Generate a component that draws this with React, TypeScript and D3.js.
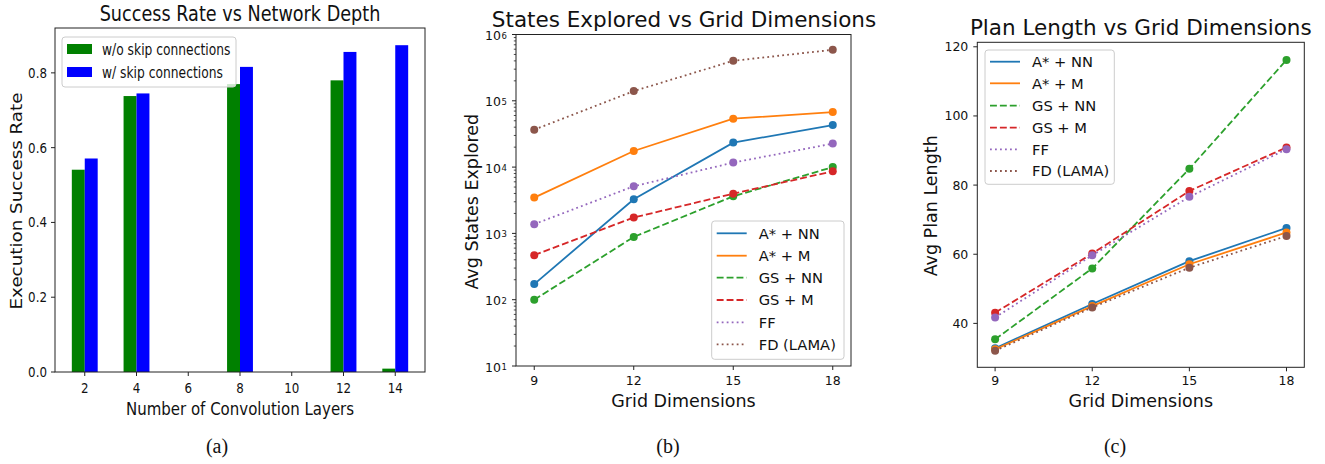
import React from 'react';
import * as d3 from 'd3';

// ---- panel (a) data ----
const layers = [2, 4, 6, 8, 10, 12, 14];
const withoutSkip = [0.541, 0.738, 0, 0.77, 0, 0.78, 0.009];
const withSkip = [0.571, 0.745, 0, 0.816, 0, 0.856, 0.874];
const barTicksY = [0, 0.2, 0.4, 0.6, 0.8];

// ---- panels (b) and (c) data ----
const gridDims = [9, 12, 15, 18];
const seriesNames = ['A* + NN', 'A* + M', 'GS + NN', 'GS + M', 'FF', 'FD (LAMA)'];
const seriesColors = ['#1f77b4', '#ff7f0e', '#2ca02c', '#d62728', '#9467bd', '#8c564b'];
const seriesStyles = ['solid', 'solid', 'dashed', 'dashed', 'dotted', 'dotted'];

const statesExplored = [
  [172, 3270, 23400, 43000],
  [3470, 17500, 53700, 67600],
  [100, 885, 3630, 10000],
  [470, 1735, 3980, 8650],
  [1377, 5140, 11700, 22600],
  [36700, 140000, 401000, 588000],
];
const planLength = [
  [32.8, 45.6, 58.0, 67.6],
  [32.5, 45.0, 57.1, 66.3],
  [35.4, 55.9, 84.7, 116.2],
  [43.1, 60.2, 78.3, 90.9],
  [41.7, 59.7, 76.6, 90.4],
  [32.1, 44.6, 56.1, 65.3],
];
const logTicks = [1, 2, 3, 4, 5, 6];
const planTicks = [40, 60, 80, 100, 120];

const FONT = '"DejaVu Sans", sans-serif';
const INK = '#111';
const dashOf = (s: string) => (s === 'dashed' ? '6.9,3' : s === 'dotted' ? '1.8,3.2' : undefined);

const SQ = 0.82; // panel (a) is horizontally squeezed in the source

function BarPanel() {
  const x = d3.scaleLinear().domain([0.85, 15.15]).range([55, 425]);
  const y = d3.scaleLinear().domain([0, 0.92]).range([372, 28]);
  const bw = x(0.5) - x(0);
  const sq = (tx: number, ty: number, extra = '') => `translate(${tx},${ty}) scale(${SQ},1)${extra}`;
  return (
    <g fontFamily={FONT} fill={INK}>
      {layers.map((l, i) => (
        <g key={l}>
          <rect x={x(l) - bw} y={y(withoutSkip[i])} width={bw} height={y(0) - y(withoutSkip[i])} fill="#008000" />
          <rect x={x(l)} y={y(withSkip[i])} width={bw} height={y(0) - y(withSkip[i])} fill="#0000ff" />
        </g>
      ))}
      <rect x={55} y={28} width={370} height={344} fill="none" stroke="#222" strokeWidth={1} />
      {barTicksY.map((t) => (
        <g key={t}>
          <line x1={51} x2={55} y1={y(t)} y2={y(t)} stroke="#222" />
          <text transform={sq(47, y(t) + 5)} textAnchor="end" fontSize={14.5}>{t.toFixed(1)}</text>
        </g>
      ))}
      {layers.map((l) => (
        <g key={l}>
          <line x1={x(l)} x2={x(l)} y1={372} y2={376} stroke="#222" />
          <text transform={sq(x(l), 393)} textAnchor="middle" fontSize={14.5}>{l}</text>
        </g>
      ))}
      <text transform={sq(240, 21)} textAnchor="middle" fontSize={21.5}>Success Rate vs Network Depth</text>
      <text transform={sq(240, 415)} textAnchor="middle" fontSize={18.3}>Number of Convolution Layers</text>
      <text transform={`translate(21.5,201) scale(${SQ},1) rotate(-90)`} textAnchor="middle" fontSize={18.3}>Execution Success Rate</text>
      <rect x={62} y={37} width={174} height={50} rx={3} fill="#fff" fillOpacity={0.8} stroke="#ccc" />
      <rect x={67} y={44} width={25} height={10} fill="#008000" />
      <rect x={67} y={67} width={25} height={10} fill="#0000ff" />
      <text transform={sq(102, 55)} fontSize={15}>w/o skip connections</text>
      <text transform={sq(102, 78)} fontSize={15}>w/ skip connections</text>
    </g>
  );
}

type LineProps = {
  left: number; right: number; top: number; bottom: number;
  values: number[][];
  log: boolean;
  yDomain: [number, number];
  title: string; titleX: number; titleY: number;
  yLabel: string; yLabelX: number; yLabelY: number;
  legend: { x: number; y: number; w: number; h: number; rows: number[] };
};

function LinePanel(p: LineProps) {
  const x = d3.scaleLinear().domain([8.45, 18.55]).range([p.left, p.right]);
  const y = p.log
    ? d3.scaleLog().domain(p.yDomain).range([p.bottom, p.top])
    : d3.scaleLinear().domain(p.yDomain).range([p.bottom, p.top]);
  const line = d3.line<number>().x((_, i) => x(gridDims[i])).y((v) => y(v));
  const minor: number[] = [];
  if (p.log) {
    for (let e = 1; e < 6; e++) for (let k = 2; k <= 9; k++) minor.push(k * Math.pow(10, e));
  }
  const cx = (p.left + p.right) / 2;
  return (
    <g fontFamily={FONT} fill={INK}>
      {p.values.map((vals, si) => (
        <g key={si}>
          <path d={line(vals) || ''} fill="none" stroke={seriesColors[si]} strokeWidth={1.8} strokeDasharray={dashOf(seriesStyles[si])} />
          {vals.map((v, i) => (
            <circle key={i} cx={x(gridDims[i])} cy={y(v)} r={4} fill={seriesColors[si]} />
          ))}
        </g>
      ))}
      <rect x={p.left} y={p.top} width={p.right - p.left} height={p.bottom - p.top} fill="none" stroke="#222" />
      {gridDims.map((g) => (
        <g key={g}>
          <line x1={x(g)} x2={x(g)} y1={p.bottom} y2={p.bottom + 4} stroke="#222" />
          <text x={x(g)} y={385} textAnchor="middle" fontSize={12.5}>{g}</text>
        </g>
      ))}
      {p.log
        ? logTicks.map((e) => {
            const ty = y(Math.pow(10, e));
            return (
              <g key={e}>
                <line x1={p.left - 4} x2={p.left} y1={ty} y2={ty} stroke="#222" />
                <text x={p.left - 15} y={ty + 5.5} textAnchor="end" fontSize={12.5}>10</text>
                <text x={p.left - 14.5} y={ty + 4} fontSize={8.5}>{e}</text>
              </g>
            );
          })
        : planTicks.map((t) => (
            <g key={t}>
              <line x1={p.left - 4} x2={p.left} y1={y(t)} y2={y(t)} stroke="#222" />
              <text x={p.left - 9} y={y(t) + 4.5} textAnchor="end" fontSize={12.5}>{t}</text>
            </g>
          ))}
      {minor.map((m) => (
        <line key={m} x1={p.left - 2.2} x2={p.left} y1={y(m)} y2={y(m)} stroke="#222" strokeWidth={0.8} />
      ))}
      <text x={p.titleX} y={p.titleY} textAnchor="middle" fontSize={21.5}>{p.title}</text>
      <text x={cx} y={407} textAnchor="middle" fontSize={17.5}>Grid Dimensions</text>
      <text transform={`translate(${p.yLabelX},${p.yLabelY}) rotate(-90)`} textAnchor="middle" fontSize={17.5}>{p.yLabel}</text>
      <rect x={p.legend.x} y={p.legend.y} width={p.legend.w} height={p.legend.h} rx={3} fill="#fff" fillOpacity={0.8} stroke="#ccc" />
      {seriesNames.map((n, si) => {
        const ry = p.legend.rows[si];
        return (
          <g key={n}>
            <line x1={p.legend.x + 5} x2={p.legend.x + 35} y1={ry} y2={ry} stroke={seriesColors[si]} strokeWidth={1.8} strokeDasharray={dashOf(seriesStyles[si])} />
            <text x={p.legend.x + 47} y={ry + 5.3} fontSize={14.7}>{n}</text>
          </g>
        );
      })}
    </g>
  );
}

export default function App() {
  return (
    <svg width={1325} height={464} style={{ position: 'absolute', left: 0, top: 0, background: '#fff' }}>
      <BarPanel />
      <LinePanel
        left={516} right={851} top={34.5} bottom={366}
        values={statesExplored} log yDomain={[10, 1e6]}
        title="States Explored vs Grid Dimensions" titleX={684} titleY={26.8}
        yLabel="Avg States Explored" yLabelX={478.3} yLabelY={201.7}
        legend={{ x: 711.7, y: 221, w: 132.3, h: 138.3, rows: [233.3, 255.7, 277.7, 300, 322.3, 344.3] }}
      />
      <LinePanel
        left={977.3} right={1304.3} top={42.3} bottom={367.3}
        values={planLength} log={false} yDomain={[27.3, 121.3]}
        title="Plan Length vs Grid Dimensions" titleX={1140.8} titleY={35}
        yLabel="Avg Plan Length" yLabelX={937.3} yLabelY={205.8}
        legend={{ x: 985, y: 50, w: 129.3, h: 134.3, rows: [61.7, 83.3, 105.7, 127.7, 149.3, 171] }}
      />
      <g fontFamily='"Liberation Serif", serif' fontSize={20} fill={INK} textAnchor="middle">
        <text x={217} y={453}>(a)</text>
        <text x={668} y={453}>(b)</text>
        <text x={1115} y={453}>(c)</text>
      </g>
    </svg>
  );
}
